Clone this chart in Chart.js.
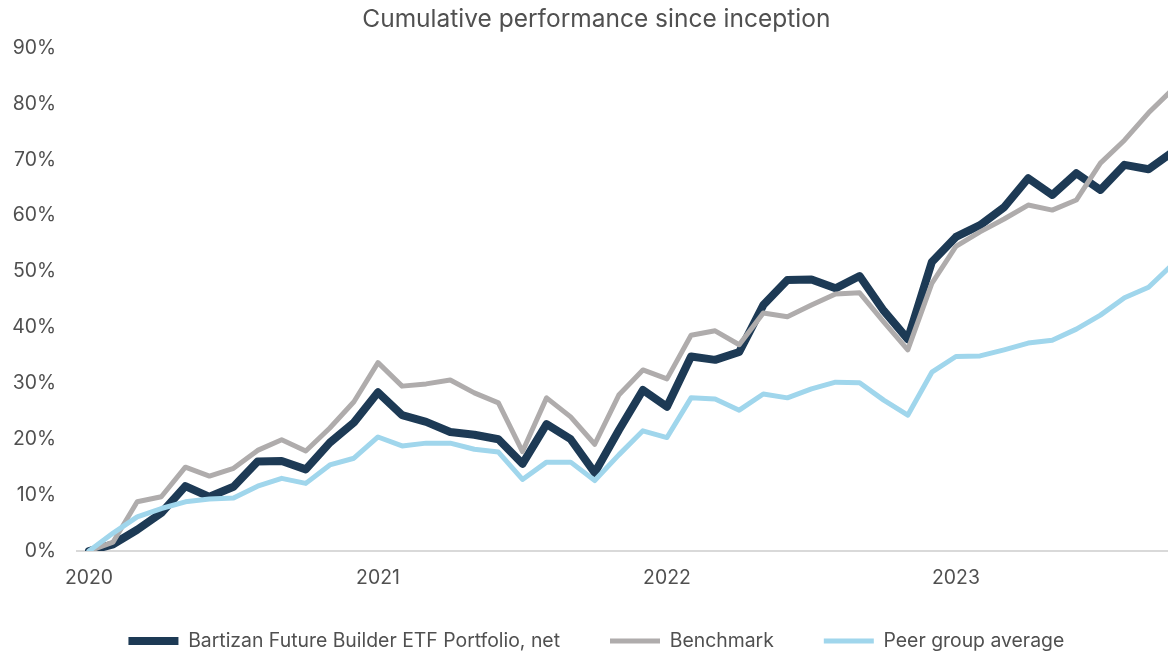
<!DOCTYPE html>
<html>
<head>
<meta charset="utf-8">
<script src="https://cdn.jsdelivr.net/npm/chart.js@4/dist/chart.umd.min.js"></script>
<style>
  html, body { margin: 0; padding: 0; background: #fff; overflow: hidden; }
  #wrap { width: 1204px; height: 653px; }
</style>
</head>
<body>
<div id="wrap"><canvas id="perfChart" width="1204" height="653"></canvas></div>
<script>
// monthly points, Jan 2020 .. Oct 2023
const months = [];
for (let y = 2020; y <= 2023; y++) {
  for (let m = 1; m <= 12; m++) months.push(y + '-' + String(m).padStart(2, '0'));
}
const monthLabels = months.slice(0, 46);

const portfolio = [0, 1.2, 3.8, 6.8, 11.6, 9.7, 11.5, 16.0, 16.1, 14.6, 19.4, 23.0,
  28.4, 24.3, 23.1, 21.3, 20.8, 20.0, 15.6, 22.7, 20.0, 14.0, 21.6, 28.8,
  25.8, 34.8, 34.2, 35.6, 44.0, 48.5, 48.6, 47.0, 49.2, 43.0, 37.9, 51.7,
  56.2, 58.3, 61.5, 66.7, 63.7, 67.6, 64.6, 69.1, 68.3, 71.4];

const benchmark = [0, 1.6, 8.8, 9.7, 15.0, 13.4, 14.8, 18.0, 19.9, 17.9, 22.0, 26.7,
  33.7, 29.5, 29.9, 30.6, 28.3, 26.5, 17.8, 27.4, 24.0, 19.1, 27.9, 32.4,
  30.8, 38.6, 39.4, 36.9, 42.6, 41.9, 44.0, 46.0, 46.2, 41.0, 36.0, 47.9,
  54.5, 57.1, 59.4, 61.9, 61.0, 62.8, 69.4, 73.5, 78.4, 82.6];

const peerAverage = [0, 3.2, 6.1, 7.6, 8.8, 9.3, 9.5, 11.6, 13.0, 12.1, 15.4, 16.6,
  20.4, 18.8, 19.3, 19.3, 18.2, 17.7, 12.8, 15.9, 15.9, 12.6, 17.2, 21.5,
  20.3, 27.4, 27.2, 25.2, 28.1, 27.4, 29.0, 30.2, 30.1, 27.0, 24.3, 32.0,
  34.8, 34.9, 36.0, 37.2, 37.7, 39.7, 42.2, 45.3, 47.2, 51.3];

const seriesNames = ['Bartizan Future Builder ETF Portfolio, net', 'Benchmark', 'Peer group average'];
const seriesColors = ['#1d3a55', '#afacac', '#a0d6ec'];
const yTicks = { min: 0, max: 90, step: 10 };

const FONT = 'Inter';
const textColor = '#505050';

const ctx = document.getElementById('perfChart').getContext('2d');

new Chart(ctx, {
  type: 'line',
  data: {
    labels: monthLabels,
    datasets: [
      { label: seriesNames[0], data: portfolio, borderColor: seriesColors[0], backgroundColor: seriesColors[0], borderWidth: 8, order: 3 },
      { label: seriesNames[1], data: benchmark, borderColor: seriesColors[1], backgroundColor: seriesColors[1], borderWidth: 5, order: 2 },
      { label: seriesNames[2], data: peerAverage, borderColor: seriesColors[2], backgroundColor: seriesColors[2], borderWidth: 5, order: 1 }
    ]
  },
  options: {
    responsive: false,
    animation: false,
    layout: { padding: { left: 8, right: 19.3, top: 0, bottom: 0 } },
    elements: {
      point: { radius: 0 },
      line: { tension: 0, borderJoinStyle: 'round', borderCapStyle: 'round', fill: false }
    },
    plugins: {
      title: {
        display: true,
        text: 'Cumulative performance since inception',
        color: textColor,
        font: { family: FONT, size: 24.5, weight: 'normal' },
        padding: { top: 5, bottom: 13.6 }
      },
      legend: {
        position: 'bottom',
        maxHeight: 64,
        // empty title with negative padding pulls the row up so the
        // horizontal gap between items can stay wide
        title: { display: true, text: '', font: { size: 1 }, padding: { top: 0, bottom: -8.9 } },
        labels: {
          usePointStyle: true,
          pointStyle: 'line',
          pointStyleWidth: 50,
          padding: 50,
          color: textColor,
          font: { family: FONT, size: 19.4 },
          sort: (a, b) => a.datasetIndex - b.datasetIndex
        }
      },
      tooltip: { enabled: false }
    },
    scales: {
      x: {
        type: 'category',
        offset: true,
        grid: { display: false, drawTicks: false },
        border: { display: true, color: '#d9d9d9', width: 2 },
        afterFit: scale => { scale.height = 38; },
        ticks: {
          autoSkip: false,
          maxRotation: 0,
          minRotation: 0,
          padding: 15.6,
          color: textColor,
          font: { family: FONT, size: 19.4 },
          callback: (value, index) => index % 12 === 0 ? monthLabels[index].slice(0, 4) : ''
        }
      },
      y: {
        min: yTicks.min,
        max: yTicks.max,
        grid: { display: false, drawTicks: false },
        border: { display: false },
        afterFit: scale => { scale.width = 69; },
        ticks: {
          stepSize: yTicks.step,
          padding: 21,
          color: textColor,
          font: { family: FONT, size: 19.4 },
          callback: v => v + '%'
        }
      }
    }
  }
});
</script>
</body>
</html>
